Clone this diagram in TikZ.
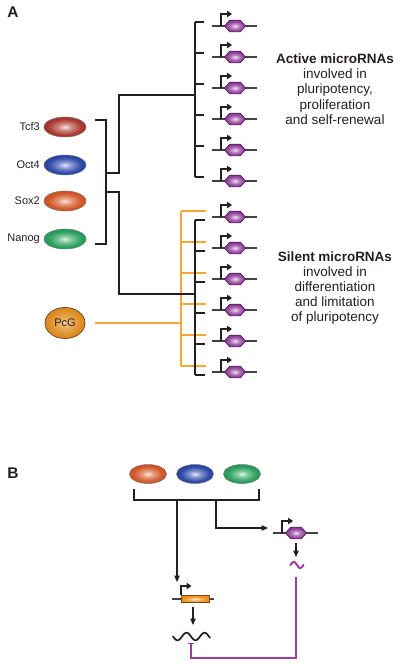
\documentclass[tikz,border=0pt]{standalone}
\usepackage{fontspec}
\setmainfont{Liberation Sans}
\usetikzlibrary{arrows.meta,shapes.geometric}
\definecolor{ink}{HTML}{231F20}
\definecolor{tcfout}{HTML}{A52F28}\definecolor{tcfin}{HTML}{FBE6E0}
\definecolor{octout}{HTML}{2340A2}\definecolor{octin}{HTML}{E4E8FB}
\definecolor{soxout}{HTML}{CF4E20}\definecolor{soxin}{HTML}{FCE6DA}
\definecolor{nanout}{HTML}{1F9A55}\definecolor{nanin}{HTML}{DDF4E4}
\definecolor{pcgout}{HTML}{DC8A20}\definecolor{pcgin}{HTML}{F8D090}\definecolor{pcgedge}{HTML}{6B4A20}
\definecolor{hexout}{HTML}{8A3A94}\definecolor{hexin}{HTML}{FAE4FA}\definecolor{hexedge}{HTML}{4A2050}
\definecolor{orgout}{HTML}{F08C18}\definecolor{orgin}{HTML}{FFF0D4}
\definecolor{oline}{HTML}{F7A833}
\definecolor{pline}{HTML}{9B3C9E}
\colorlet{spotin}{white}\colorlet{spotout}{black}
\pgfdeclareradialshading[spotin,spotout]{spot}{\pgfpoint{0bp}{0bp}}{%
  color(0bp)=(spotin); color(8bp)=(spotin!50!spotout); color(19bp)=(spotout!92!spotin); color(25bp)=(spotout); color(50bp)=(spotout)}
\begin{document}
\begin{tikzpicture}[x=1pt,y=-1pt,
  spotc/.style 2 args={/utils/exec={\colorlet{spotin}{#1}\colorlet{spotout}{#2}}, shading=spot},
  tf/.style={ellipse, minimum width=42pt, minimum height=20pt, inner sep=0pt, draw=black!55, line width=0.5pt, shade},
  tfb/.style={tf, minimum width=37pt, minimum height=19pt},
  lab/.style={font=\fontsize{11}{13}\selectfont, text=ink, inner sep=0pt, anchor=east},
  desc/.style={font=\fontsize{13.5}{15.2}\selectfont, text=ink, align=center, inner sep=0pt},
  panel/.style={font=\fontsize{15.5}{16}\selectfont\bfseries, text=ink, inner sep=0pt},
  tree/.style={draw=ink, line width=1.15pt},
  otree/.style={draw=oline, line width=1.25pt},
  arr/.style={draw=ink, line width=1.15pt, -{Triangle[length=6.5pt,width=5.5pt]}},
  promo/.style={draw=ink, line width=1.1pt, -{Triangle[length=5pt,width=6.5pt]}},
  gline/.style={draw=ink!85, line width=1.05pt},
  gene/.pic={
    \draw[gline] (-23,0) -- (22,0);
    \draw[promo] (-14,0) -- (-14,-12) -- (-3,-12);
    \path[draw=hexedge, line width=0.6pt, shade, spotc={hexin}{hexout}]
      (-10.5,0) -- (-5.5,-5.8) -- (5.5,-5.8) -- (10.5,0) -- (5.5,5.8) -- (-5.5,5.8) -- cycle;
  }]
\useasboundingbox (0,0) rectangle (400,664);

% ---------- Panel A ----------
\node[panel] (pA) at (13,12.5) {A};

\node[tf, spotc={tcfin}{tcfout}] (tcf3) at (65,127) {};
\node[tf, spotc={octin}{octout}] (oct4) at (65,165) {};
\node[tf, spotc={soxin}{soxout}] (sox2) at (65,201) {};
\node[tf, spotc={nanin}{nanout}] (nanog) at (65,239) {};
\node[lab] (lTcf) at (40,127) {Tcf3};
\node[lab] (lOct) at (40,165) {Oct4};
\node[lab] (lSox) at (40,201) {Sox2};
\node[lab] (lNan) at (40,239) {Nanog};
\node[ellipse, minimum width=40pt, minimum height=31pt, inner sep=0pt, draw=pcgedge, line width=0.8pt,
      shade, spotc={pcgin}{pcgout}, font=\fontsize{11}{13}\selectfont, text=ink] (pcg) at (65,323) {PcG};

% bracket of the four factors
\coordinate (bt) at (95,120);
\coordinate (bb) at (95,244);
\draw[tree] (bt) -- (106,120) -- (106,244) -- (bb);
\coordinate (upj) at (195,95);
\coordinate (loj) at (195,294);
\draw[tree] (106,173) -- (119,173) |- (upj);
% orange (PcG) tree
\coordinate (ov) at (181,323);
\draw[otree, shorten <=10pt] (pcg.east) -- (ov);
\draw[otree] (181,211) -- (181,366);
\foreach \k [evaluate=\k as \yy using 211+31*\k] in {0,...,5}
  \draw[otree] (181,\yy) -- (206,\yy);
\draw[tree] (106,192) -- (119,192) |- (loj);

% upper (active) tree
\draw[tree] (195,22) -- (195,177);
\foreach \k [evaluate=\k as \yy using 22+31*\k, evaluate=\k as \gy using 26+31*\k] in {0,...,5}{
  \draw[tree] (195,\yy) -- (204,\yy);
  \coordinate (gA\k) at (235,\gy);
  \pic at (gA\k) {gene};
}
% lower (silent) tree
\draw[tree] (195,220) -- (195,375);
\foreach \k [evaluate=\k as \yy using 220+31*\k, evaluate=\k as \gy using 217+31*\k] in {0,...,5}{
  \draw[tree] (195,\yy) -- (205,\yy);
  \coordinate (gS\k) at (235,\gy);
  \pic at (gS\k) {gene};
}

\node[desc] (act) at (335,89) {\textbf{Active microRNAs}\\involved in\\pluripotency,\\proliferation\\and self-renewal};
\node[desc] (sil) at (335,288) {\textbf{Silent microRNAs}\\involved in\\differentiation\\and limitation\\of pluripotency};

% ---------- Panel B ----------
\node[panel] (pB) at (13,473.5) {B};
\node[tfb, spotc={soxin}{soxout}] (b1) at (148,474) {};
\node[tfb, spotc={octin}{octout}] (b2) at (195,474) {};
\node[tfb, spotc={nanin}{nanout}] (b3) at (242,474) {};
\coordinate (bl) at (134,489);
\coordinate (br) at (259,489);
\draw[tree] (bl) -- (134,500) -- (259,500) -- (br);
\coordinate (tgt1) at (177,582);
\coordinate (tgt2) at (268,528);
\draw[arr] (177,500) -- (tgt1);
\draw[arr] (216,500) |- (tgt2);

% miRNA gene
\coordinate (gB) at (296,533);
\pic at (gB) {gene};
\coordinate (mA) at (296,543);
\coordinate (mB) at (296,557);
\draw[arr] (mA) -- (mB);
\draw[pline, line width=2pt, line cap=round] plot[domain=-6.5:6.5, samples=25] ({297+\x},{565+3*sin(\x*28)});

% target gene
\draw[gline] (172,599) -- (214,599);
\node[rectangle, minimum width=28pt, minimum height=7.5pt, inner sep=0pt, draw=ink!60!orgout, line width=0.6pt,
      shade, spotc={orgin}{orgout}] (og) at (195,599) {};
\draw[promo] (181,595.3) -- (181,586) -- (191.5,586);
\coordinate (tA) at (193,607);
\coordinate (tB) at (193,625);
\draw[arr] (tA) -- (tB);
\draw[ink, line width=1.7pt, line cap=round, line join=round] plot[domain=0:37, samples=60] ({173+\x},{636.5+3.8*sin(\x*20)});

% inhibition
\coordinate (pS) at (296,577);
\coordinate (pE) at (191,643);
\draw[draw=pline, line width=1.25pt, -{Bar[width=6pt]}] (pS) |- (191,658) -- (pE);
\end{tikzpicture}
\end{document}
